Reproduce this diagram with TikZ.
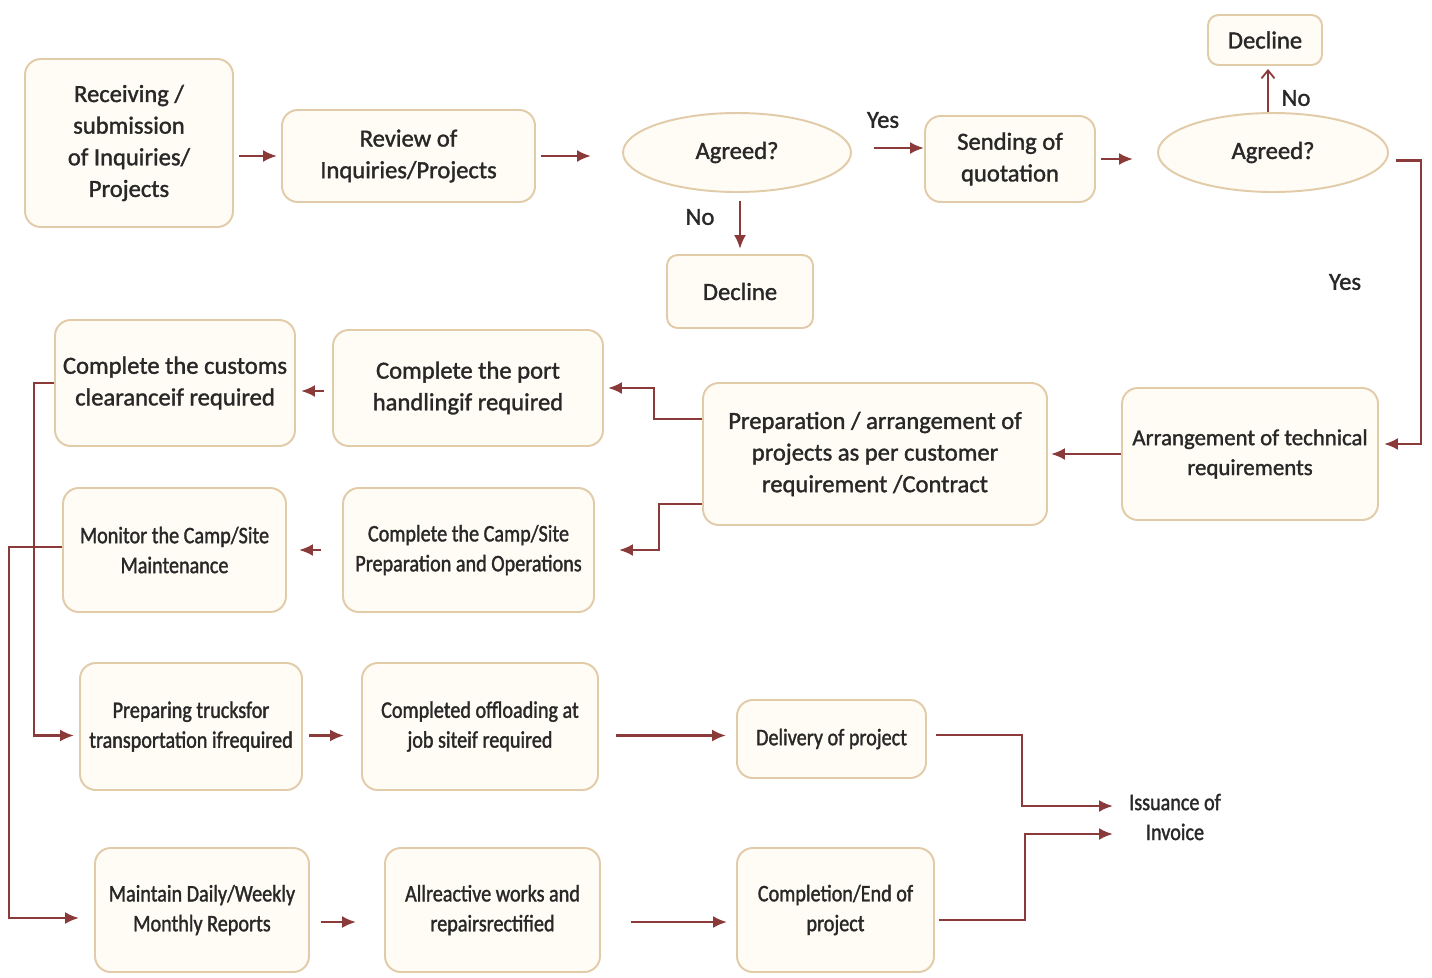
\documentclass[tikz,border=0pt]{standalone}
\usepackage{fontspec}
\setmainfont{Carlito}[FakeBold=1.4]
\newfontfamily\condfont{Carlito}[FakeStretch=0.85,FakeBold=1.4]
\usepackage{tikz}
\usetikzlibrary{shapes.geometric,arrows.meta,positioning}
\usepackage{xcolor}
\definecolor{boxline}{RGB}{226,203,168}
\definecolor{boxfill}{RGB}{255,252,245}
\definecolor{linered}{RGB}{139,58,58}
\definecolor{txt}{RGB}{40,40,40}

\begin{document}
\begin{tikzpicture}[
    box/.style={rectangle,rounded corners=9pt,draw=boxline,fill=boxfill,line width=1.1pt,
      align=center,inner sep=0pt,text=txt,font=\fontsize{14}{18}\selectfont},
    cond/.style={font=\condfont\fontsize{13.5}{17}\selectfont},
    decision/.style={ellipse,draw=boxline,fill=boxfill,line width=1.1pt,inner sep=0pt,
      text=txt,font=\fontsize{14}{18}\selectfont},
    line/.style={draw=linered,line width=1.4pt,-{Latex[length=2.8mm,width=2.4mm]}},
    lbl/.style={text=txt,font=\fontsize{14}{18}\selectfont}]
  \useasboundingbox[fill=white] (0,0) rectangle (28.64,-19.54);
  % top row
  \node[box,minimum width=4.16cm,minimum height=3.36cm] (recv) at (2.58,-2.86)
    {Receiving /\\submission\\of Inquiries/\\Projects};
  \node[box,minimum width=5.06cm,minimum height=1.84cm] (review) at (8.17,-3.12)
    {Review of\\Inquiries/Projects};
  \node[decision,minimum width=4.56cm,minimum height=1.58cm] (agreed1) at (14.74,-3.05) {Agreed?};
  \node[box,minimum width=3.4cm,minimum height=1.72cm] (quote) at (20.2,-3.18)
    {Sending of\\quotation};
  \node[decision,minimum width=4.6cm,minimum height=1.58cm] (agreed2) at (25.46,-3.05) {Agreed?};
  \node[box,rounded corners=6pt,minimum width=2.28cm,minimum height=1cm] (decline2) at (25.3,-0.8) {Decline};
  \node[box,rounded corners=6pt,minimum width=2.92cm,minimum height=1.46cm] (decline1) at (14.8,-5.83) {Decline};
  % middle rows
  \node[box,minimum width=5.12cm,minimum height=2.64cm,font=\fontsize{13}{17}\selectfont] (tech) at (25,-9.08)
    {Arrangement of technical\\requirements};
  \node[box,minimum width=6.88cm,minimum height=2.84cm] (prep) at (17.5,-9.08)
    {Preparation / arrangement of\\projects as per customer\\requirement /Contract};
  \node[box,minimum width=5.4cm,minimum height=2.32cm] (port) at (9.36,-7.76)
    {Complete the port\\handlingif required};
  \node[box,minimum width=4.8cm,minimum height=2.52cm] (customs) at (3.5,-7.66)
    {Complete the customs\\clearanceif required};
  \node[box,cond,minimum width=5.02cm,minimum height=2.48cm] (camp) at (9.37,-11)
    {Complete the Camp/Site\\Preparation and Operations};
  \node[box,cond,minimum width=4.46cm,minimum height=2.48cm] (monitor) at (3.49,-11)
    {Monitor the Camp/Site\\Maintenance};
  % bottom rows
  \node[box,cond,minimum width=4.44cm,minimum height=2.54cm] (trucks) at (3.82,-14.53)
    {Preparing trucksfor\\transportation ifrequired};
  \node[box,cond,minimum width=4.72cm,minimum height=2.54cm] (offload) at (9.6,-14.53)
    {Completed offloading at\\job siteif required};
  \node[box,cond,minimum width=3.78cm,minimum height=1.56cm] (deliver) at (16.63,-14.78)
    {Delivery of project};
  \node[box,cond,minimum width=4.28cm,minimum height=2.48cm] (reports) at (4.04,-18.2)
    {Maintain Daily/Weekly\\Monthly Reports};
  \node[box,cond,minimum width=4.3cm,minimum height=2.48cm] (repairs) at (9.85,-18.2)
    {Allreactive works and\\repairsrectified};
  \node[box,cond,minimum width=3.94cm,minimum height=2.48cm] (finish) at (16.71,-18.2)
    {Completion/End of\\project};
  \node[lbl,cond,align=center,text=txt] (invoice) at (23.5,-16.34) {Issuance of\\Invoice};
  % labels
  \node[lbl] (yes1) at (17.66,-2.4) {Yes};
  \node[lbl] (no1) at (14,-4.34) {No};
  \node[lbl] (no2) at (25.92,-1.96) {No};
  \node[lbl] (yes2) at (26.9,-5.64) {Yes};
  % connectors
  \draw[line,shorten <=0.1cm,shorten >=0.08cm] (recv.east |- review.west) -- (review.west);
  \draw[line,shorten <=0.1cm,shorten >=0.62cm] (review.east) -- (review.east -| agreed1.west);
  \draw[line,shorten <=0.44cm] ([yshift=0.22cm]quote.west -| agreed1.east) -- ([yshift=0.22cm]quote.west);
  \draw[line,shorten <=0.16cm,shorten >=0.1cm] (agreed1.south -| decline1.north) -- (decline1.north);
  \draw[line,shorten <=0.1cm,shorten >=0.48cm] (quote.east) -- (quote.east -| agreed2.west);
  \draw[draw=linered,line width=1pt,-{Straight Barb[length=1.6mm,width=2.6mm]},shorten >=0.06cm]
    (agreed2.north -| 25.36,0) -- (decline2.south -| 25.36,0);
  \draw[line,shorten >=0.1cm] ([shift={(0.14,-0.16)}]agreed2.east) -- ++(0.5,0) |- ([yshift=0.2cm]tech.east);
  \draw[line,shorten >=0.06cm] (tech.west) -- (tech.west -| prep.east);
  \draw[line,shorten >=0.08cm] ([yshift=0.7cm]prep.west) -- ++(-0.96,0) |- (port.east);
  \draw[line,shorten >=0.48cm] ([yshift=-1cm]prep.west) -- ++(-0.86,0) |- (camp.east);
  \draw[line,shorten <=0.16cm,shorten >=0.1cm] ([yshift=-0.06cm]port.west) -- ([yshift=-0.06cm]port.west -| customs.east);
  \draw[line,shorten <=0.42cm,shorten >=0.24cm] (camp.west) -- (monitor.east);
  \draw[line,shorten >=0.1cm] (customs.west) -- ++(-0.4,0) |- ([yshift=-0.18cm]trucks.west);
  \draw[line,shorten >=0.3cm] ([yshift=0.06cm]monitor.west) -- ++(-1.06,0) |- ([yshift=-0.16cm]reports.west);
  \draw[line,shorten <=0.12cm,shorten >=0.34cm] ([yshift=-0.18cm]trucks.east) -- ([yshift=-0.18cm]offload.west);
  \draw[line,shorten <=0.34cm,shorten >=0.2cm] ([yshift=-0.18cm]offload.east) -- ([yshift=-0.18cm]offload.east -| deliver.west);
  \draw[line,shorten <=0.22cm,shorten >=0.56cm] ([yshift=-0.24cm]reports.east) -- ([yshift=-0.24cm]repairs.west);
  \draw[line,shorten <=0.6cm,shorten >=0.18cm] ([yshift=-0.24cm]repairs.east) -- ([yshift=-0.24cm]repairs.east -| finish.west);
  \draw[line,shorten <=0.18cm,shorten >=0.2cm] ([yshift=0.08cm]deliver.east) -- ++(1.9,0) |- ([yshift=0.22cm]invoice.west);
  \draw[line,shorten <=0.08cm,shorten >=0.2cm] ([yshift=-0.2cm]finish.east) -- ++(1.8,0) |- ([yshift=-0.34cm]invoice.west);
\end{tikzpicture}
\end{document}
